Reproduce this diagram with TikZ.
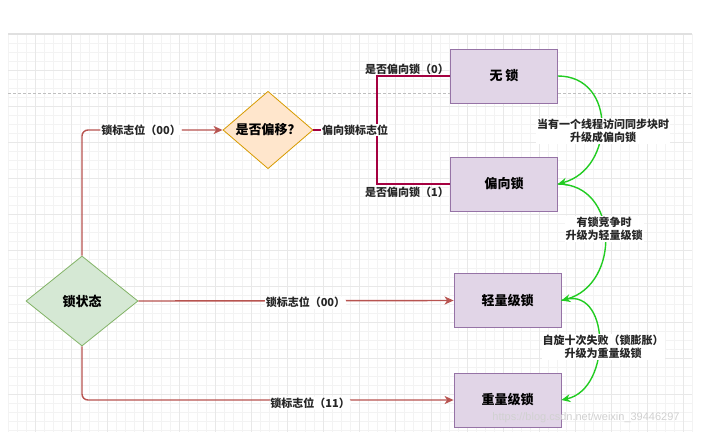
\documentclass[tikz,border=0pt]{standalone}
\usepackage{fontspec}
\setmainfont{Noto Sans CJK SC}
\newfontfamily\wmfont{Liberation Sans}
\usetikzlibrary{arrows.meta,shapes.geometric}
\definecolor{boxfill}{HTML}{E1D5E7}
\definecolor{boxline}{HTML}{9673A6}
\definecolor{orfill}{HTML}{FFE6CC}
\definecolor{orline}{HTML}{D79B00}
\definecolor{grfill}{HTML}{D5E8D4}
\definecolor{grline}{HTML}{82B366}
\definecolor{redln}{HTML}{B85450}
\definecolor{crim}{HTML}{A50040}
\definecolor{grn}{HTML}{22CC22}
\definecolor{gridminor}{HTML}{F3F3F3}
\definecolor{gridmajor}{HTML}{E8E8E8}
\tikzset{
  statebox/.style={rectangle,draw=boxline,fill=boxfill,line width=0.8pt,
    minimum width=107pt,minimum height=54pt,inner sep=0pt,
    font=\fontsize{13}{15}\selectfont\bfseries},
  decbox/.style={diamond,draw=orline,fill=orfill,line width=0.8pt,
    minimum width=90pt,minimum height=74pt,inner sep=0pt,
    font=\fontsize{13}{15}\selectfont\bfseries},
  rootbox/.style={diamond,draw=grline,fill=grfill,line width=0.8pt,
    minimum width=112pt,minimum height=90pt,inner sep=0pt,
    font=\fontsize{13}{15}\selectfont\bfseries},
  redarrow/.style={draw=redln,line width=1.4pt,rounded corners=6pt,
    -{Stealth[length=9pt,width=8pt,inset=2.5pt]}},
  crimline/.style={draw=crim,line width=1.4pt},
  grnarrow/.style={draw=grn,line width=1.4pt,
    -{Stealth[length=9pt,width=8pt,inset=3pt]}},
  lbl/.style={font=\fontsize{11}{13}\selectfont\bfseries,inner sep=1pt,text=black!85},
  lblbg/.style={lbl,fill=white},
  twoline/.style={lblbg,align=center},
}
\begin{document}
\begin{tikzpicture}[x=1pt,y=1pt]
\useasboundingbox (0,0) rectangle (703,-445);
\fill[white] (0,0) rectangle (703,-445);
% grid
\foreach \i in {0,...,76} {
  \pgfmathsetmacro\xx{8+9*\i}
  \draw[gridminor,line width=0.5pt] (\xx,-34) -- (\xx,-432);
}
\foreach \i in {0,...,44} {
  \pgfmathsetmacro\yy{34+9*\i}
  \draw[gridminor,line width=0.5pt] (8,-\yy) -- (692,-\yy);
}
\foreach \i in {0,...,18} {
  \pgfmathsetmacro\xx{35+36*\i}
  \draw[gridmajor,line width=0.6pt] (\xx,-34) -- (\xx,-432);
}
\foreach \i in {0,...,10} {
  \pgfmathsetmacro\yy{34+36*\i}
  \draw[gridmajor,line width=0.6pt] (8,-\yy) -- (692,-\yy);
}
\draw[black!12,line width=1.5pt] (8,-34) -- (692,-34);
\draw[black!25,line width=0.8pt,dash pattern=on 3pt off 2pt] (8,-93) -- (692,-93);

% nodes
\node[statebox] (wu)    at (504,-76)   {无 锁};
\node[statebox] (pian)  at (504,-184)  {偏向锁};
\node[statebox] (qing)  at (507.5,-300.5) {轻量级锁};
\node[statebox] (zhong) at (507.5,-400) {重量级锁};
\node[decbox]   (bias)  at (268,-130)  {是否偏移？};
\node[rootbox]  (state) at (82,-301)   {锁状态};
\coordinate (junc) at (377,-130);

% red connectors
\draw[redarrow] (state.north) |- (bias.west)
  node[lblbg,pos=0.71] {锁标志位（00）};
\draw[redarrow] (state.east) -- (qing.west)
  node[lblbg,pos=0.53,yshift=-2pt] {锁标志位（00）};
\draw[redarrow] (state.south) |- (zhong.west)
  node[lblbg,pos=0.807,yshift=-3pt] {锁标志位（11）};

% crimson connectors
\draw[crimline] (junc) |- (wu.west);
\draw[crimline] (junc) |- (pian.west);
\draw[crimline] (bias.east) -- (junc);
\node[lblbg] (biaslbl) at (355,-130) {偏向锁标志位};
\node[lbl,anchor=south east] (l0) at (450,-76) {是否偏向锁（0）};
\node[lbl,anchor=north east] (l1) at (450,-186) {是否偏向锁（1）};

% green connectors
\draw[grnarrow] (wu.east) to[out=0,in=15,looseness=1.4] (pian.east);
\draw[grnarrow] (pian.east) to[out=0,in=15,looseness=1.35] (qing.east);
\draw[grnarrow] (qing.east) to[out=20,in=12,looseness=1.35] (zhong.east);
\node[twoline] (g1) at (603,-131) {当有一个线程访问同步块时\\升级成偏向锁};
\node[twoline] (g2) at (604,-229) {有锁竞争时\\升级为轻量级锁};
\node[twoline] (g3) at (603,-347) {自旋十次失败（锁膨胀）\\升级为重量级锁};

% watermark
\node[font=\wmfont\fontsize{11}{13}\selectfont,text=black!18,inner sep=0pt] (wm) at (586,-418) {https://blog.csdn.net/weixin\_39446297};
\end{tikzpicture}
\end{document}
